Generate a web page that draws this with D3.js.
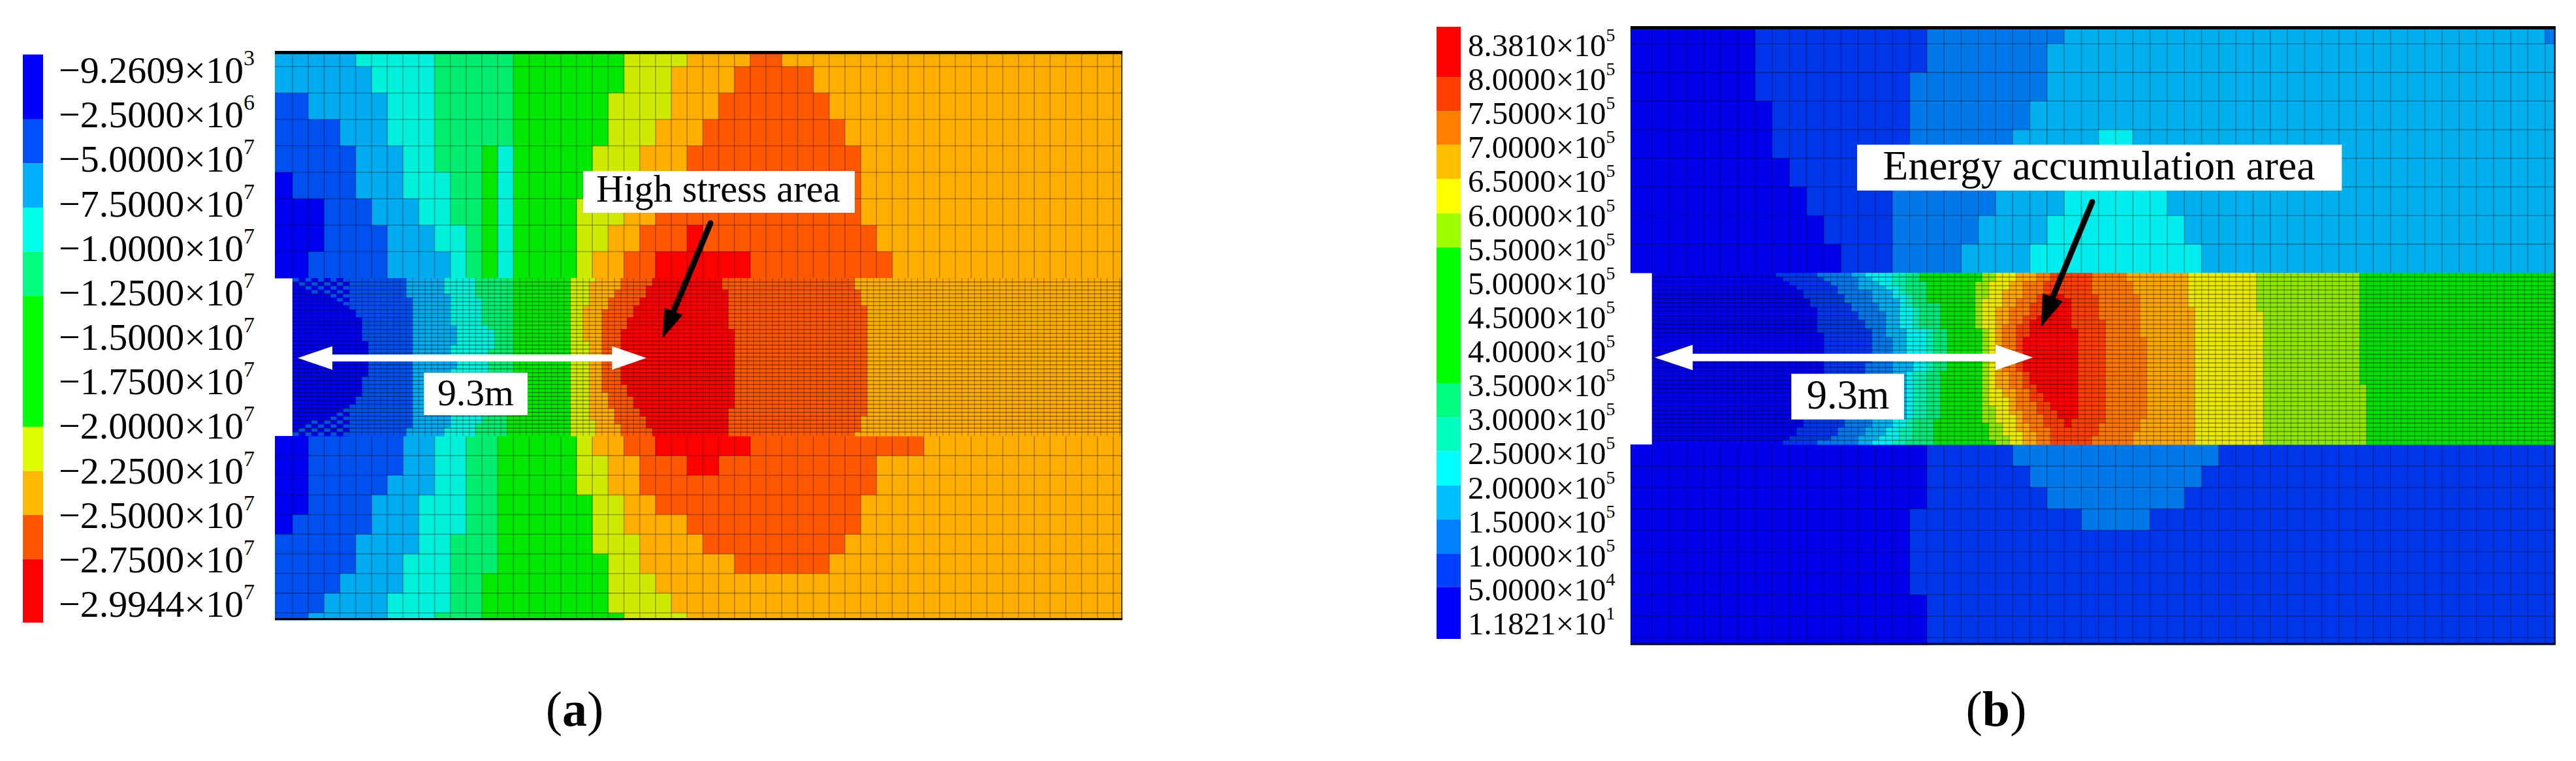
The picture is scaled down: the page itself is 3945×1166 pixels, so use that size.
<!DOCTYPE html>
<html><head><meta charset="utf-8">
<script src="https://cdnjs.cloudflare.com/ajax/libs/d3/7.8.5/d3.min.js"></script>
<style>html,body{margin:0;padding:0;background:#fff}svg{display:block}text{font-family:"Liberation Serif",serif;fill:#000}</style>
</head><body><div id="c"></div>
<script>
// ---------- legend data ----------
const labelsA=[["−9.2609","3"],["−2.5000","6"],["−5.0000","7"],["−7.5000","7"],["−1.0000","7"],["−1.2500","7"],["−1.5000","7"],["−1.7500","7"],["−2.0000","7"],["−2.2500","7"],["−2.5000","7"],["−2.7500","7"],["−2.9944","7"]];
const labelsB=[["8.3810","5"],["8.0000","5"],["7.5000","5"],["7.0000","5"],["6.5000","5"],["6.0000","5"],["5.5000","5"],["5.0000","5"],["4.5000","5"],["4.0000","5"],["3.5000","5"],["3.0000","5"],["2.5000","5"],["2.0000","5"],["1.5000","5"],["1.0000","5"],["5.0000","4"],["1.1821","1"]];
const barStopsA=[0,1.47,2.47,3.47,4.47,5.47,8.44,9.44,10.44,11.44,12.88];
const barStopsB=[0,1.48,2.48,3.47,4.47,5.49,6.49,10.48,11.48,12.48,13.49,14.49,15.49,16.47,18];
const barColorsA=["#0000ff","#0050ff","#00b0ff","#00ffe8","#00ff80","#00ff00","#dfff00","#ffb900","#ff5500","#ff0000"];
const barColorsB=["#ff0000","#ff4000","#ff8000","#ffbf00","#ffff00","#9fff00","#00ff00","#00ff80","#00ffbf","#00ffff","#00bfff","#0080ff","#0040ff","#0000ff"];
const cellColorsA=["#0000f0","#0050f0","#00abf0","#00f0dc","#00ee70","#00e800","#cdea00","#ffae00","#ff5800","#ff0000"];
const cellColorsB=["#0000ea","#0036ea","#0078ea","#00b0ee","#00eeee","#00eeb0","#00e878","#00e000","#90e800","#ece800","#ffa800","#ff7800","#ff4000","#ff0000"];

// ---------- panel (a): coarse rows, each [band,firstColumn] ----------
const upperA=[
 [[2,0],[3,5],[4,10],[5,15],[6,22],[7,26],[8,30],[7,32]],
 [[2,0],[3,6],[4,10],[5,15],[6,22],[7,25],[8,29],[7,34]],
 [[1,0],[2,2],[3,7],[4,10],[5,15],[6,21],[7,25],[8,28],[7,35]],
 [[1,0],[2,4],[3,7],[4,10],[5,15],[6,21],[7,24],[8,27],[7,36]],
 [[1,0],[2,5],[3,8],[4,10],[5,13],[3,14],[5,15],[6,20],[7,23],[8,26],[7,37]],
 [[0,0],[1,1],[2,5],[3,8],[4,11],[5,13],[3,14],[5,15],[6,20],[7,23],[8,25],[7,37]],
 [[0,0],[1,3],[2,6],[3,9],[4,11],[5,13],[3,14],[5,15],[6,19],[7,22],[8,24],[7,37]],
 [[0,0],[1,3],[2,7],[3,10],[4,12],[5,13],[3,14],[5,15],[6,19],[7,21],[8,23],[9,26],[8,27],[7,38]],
 [[0,0],[1,2],[2,7],[3,11],[4,12],[5,13],[3,14],[5,15],[6,19],[7,20],[8,22],[9,24],[8,30],[7,39]]
];
const lowerA=[
 [[0,0],[1,2],[2,8],[3,10],[4,12],[5,14],[6,19],[7,20],[8,22],[9,24],[8,30],[7,41]],
 [[0,0],[1,2],[2,8],[3,10],[4,12],[5,14],[6,19],[7,21],[8,23],[9,26],[8,28],[7,38]],
 [[0,0],[1,2],[2,7],[3,10],[4,12],[5,14],[6,19],[7,21],[8,23],[7,38]],
 [[0,0],[1,2],[2,6],[3,9],[4,12],[5,14],[6,20],[7,22],[8,24],[7,37]],
 [[0,0],[1,1],[2,6],[3,9],[4,12],[5,14],[6,20],[7,22],[8,26],[7,37]],
 [[1,0],[2,5],[3,9],[4,11],[5,14],[6,20],[7,23],[8,27],[7,36]],
 [[1,0],[2,5],[3,8],[4,11],[5,14],[6,21],[7,23],[8,29],[7,35]],
 [[1,0],[2,4],[3,8],[4,11],[5,13],[6,21],[7,24]],
 [[1,0],[2,3],[3,7],[4,11],[5,13],[6,21],[7,25]],
 [[1,0],[2,2],[3,7],[4,10],[5,13],[6,22],[7,26]]
];
// panel (a): fine layer, band sequence and for each edge its [firstRow,fineColumn] runs
const midBandsA=[0,1,2,3,4,5,6,7,8,9,8,7];
const midEdgesA=[
 [[0,9],[8,10],[10,11],[16,12],[25,11],[30,10],[32,9]],
 [[0,18],[5,19],[38,18]],
 [[0,24],[4,25],[12,26],[17,25],[20,26],[23,25],[38,24]],
 [[0,29],[5,30],[12,31],[13,32],[18,31],[35,30],[37,29]],
 [[0,35],[35,34]],
 [[0,44]],
 [[0,48],[1,47],[7,46],[16,47],[36,48]],
 [[0,52],[3,51],[5,50],[8,49],[29,50],[33,51],[37,52]],
 [[0,57],[2,56],[5,55],[7,54],[10,53],[13,52],[27,53],[30,54],[33,55],[35,56],[38,57]],
 [[0,68],[3,69],[13,70],[33,69]],
 [[0,89],[3,90],[7,91],[35,90],[39,89]]
];
const checkerA=[[0,[0,2,4,6,8]],[1,[1,3,5,7]],[2,[2,4,6,8]],[3,[3,5,7]],[4,[6,8]],[5,[7]],[6,[8]],
 [39,[0,2,4,6,8]],[38,[1,3,5,7]],[37,[2,4,6,8]],[36,[3,5,7]],[35,[6,8]],[34,[7]],[33,[8]]];

// ---------- panel (b) ----------
const upperB=[
 [[0,0],[1,7],[2,17],[3,25],[2,53]],
 [[0,0],[1,7],[2,17],[3,24]],
 [[0,0],[1,7],[2,16],[3,24]],
 [[0,0],[1,8],[2,16],[3,23]],
 [[0,0],[1,8],[2,16],[3,22],[4,27],[3,29]],
 [[0,0],[1,9],[2,15],[3,21],[4,25],[3,31]],
 [[0,0],[1,10],[2,15],[3,21],[4,25],[3,31]],
 [[0,0],[1,11],[2,15],[3,20],[4,24],[3,32]],
 [[0,0],[1,12],[2,15],[3,19],[4,23],[3,33]]
];
const lowerB=[
 [[0,0],[1,17],[2,22],[1,34]],
 [[0,0],[1,17],[2,23],[1,33]],
 [[0,0],[1,17],[2,24],[1,32]],
 [[0,0],[1,16],[2,26],[1,30]],
 [[0,0],[1,16]],
 [[0,0],[1,16]],
 [[0,0],[1,16]],
 [[0,0],[1,17]],
 [[0,0],[1,17]],
 [[0,0],[1,17]]
];
const midBandsB=[0,1,2,3,4,5,6,7,8,9,10,11,12,13,12,11,10,9,8,7];
const midEdgesB=[
 [[0,18],[1,19],[2,20],[3,21],[4,22],[6,23],[8,24],[14,25],[26,24],[31,23],[34,22],[36,21],[38,20],[39,19]],
 [[0,24],[1,25],[2,26],[3,27],[5,28],[7,29],[9,30],[11,31],[13,32],[21,31],[25,29],[34,28],[36,27],[38,26],[39,24]],
 [[0,29],[1,30],[4,32],[7,33],[9,34],[15,35],[26,33],[34,32],[36,31],[38,30]],
 [[0,31],[1,32],[2,33],[3,34],[4,35],[6,36],[13,37],[20,38],[23,37],[34,35],[36,34],[38,33],[39,32]],
 [[0,35],[3,36],[5,37],[8,38],[13,40],[23,38],[34,37],[36,36],[39,35]],
 [[0,37],[5,38],[8,39],[13,41],[23,40],[34,38],[39,37]],
 [[0,39],[2,40],[7,42],[13,43],[23,42],[34,41]],
 [[0,48],[2,47],[13,48],[35,49],[39,50]],
 [[0,50],[2,49],[6,48],[13,49],[31,50],[35,51],[38,52]],
 [[0,53],[2,52],[4,51],[8,50],[27,51],[29,52],[33,53],[37,54]],
 [[0,56],[2,54],[6,53],[8,52],[12,51],[23,52],[27,53],[32,54],[35,55],[37,56]],
 [[0,58],[2,57],[5,56],[7,55],[10,54],[12,53],[23,54],[27,55],[30,56],[33,57],[36,58]],
 [[0,60],[5,57],[10,56],[11,55],[15,54],[23,55],[26,56],[28,57],[30,58],[32,59],[34,60],[36,61]],
 [[0,60],[6,61],[13,62],[34,61]],
 [[0,64],[5,65],[11,66],[35,65],[38,64]],
 [[0,69],[2,70],[5,71],[15,72],[34,71],[37,70]],
 [[0,78],[8,79]],
 [[0,88],[9,89]],
 [[0,103],[26,104]]
];
const fineRows=40, fineCols=132;

const captions=["a","b"];
const notes={a:"High stress area",b:"Energy accumulation area",dist:"9.3m"};

// ---------- drawing ----------
const svg=d3.select("#c").append("svg").attr("width",3945).attr("height",1166).attr("viewBox","0 0 3945 1166");

function legend(cfg){
  const g=svg.append("g");
  const y=d3.scaleLinear().domain(cfg.barDomain).range(cfg.barRange);
  g.selectAll("rect").data(cfg.colors).join("rect")
   .attr("x",cfg.barX).attr("width",cfg.barW)
   .attr("y",(d,i)=>y(cfg.stops[i])).attr("height",(d,i)=>y(cfg.stops[i+1])-y(cfg.stops[i]))
   .attr("fill",d=>d);
  const ly=d3.scalePoint().domain(d3.range(cfg.labels.length)).range(cfg.labelRange);
  const t=g.selectAll("text").data(cfg.labels).join("text")
   .attr("x",cfg.labelX).attr("y",(d,i)=>ly(i)).attr("font-size",cfg.fs);
  t.append("tspan").text(d=>d[0]+"×10");
  t.append("tspan").attr("font-size",cfg.supFs).attr("dy",-cfg.supUp).text(d=>d[1]);
}
legend({barX:35,barW:31,barDomain:[0,12.88],barRange:[83.5,954],stops:barStopsA,colors:barColorsA,labels:labelsA,labelRange:[127,945],labelX:90,fs:58,supFs:34,supUp:27});
legend({barX:2200,barW:37,barDomain:[0,18],barRange:[41,979],stops:barStopsB,colors:barColorsB,labels:labelsB,labelRange:[86,972],labelX:2248,fs:49,supFs:28,supUp:23});

function edgeAt(list,r){let v=list[0][1];for(const [s,f] of list){if(r>=s)v=f;}return v;}

function panel(cfg){
  const g=svg.append("g").style("filter","blur(0.7px)");
  const X=d3.scaleLinear().domain(cfg.colDomain).range(cfg.colRange);
  const Yu=d3.scaleLinear().domain(cfg.upDomain).range(cfg.upRange);
  const Yl=d3.scaleLinear().domain(cfg.lowDomain).range(cfg.lowRange);
  const Fx=d3.scaleLinear().domain([0,cfg.fineEnd]).range(cfg.fineX);
  const Fy=d3.scaleLinear().domain([0,fineRows]).range(cfg.fineY);
  const cols=cfg.colDomain[3];
  // coarse layers
  [[cfg.upper,Yu],[cfg.lower,Yl]].forEach(([rows,Y])=>{
    rows.forEach((runs,r)=>{
      g.append("g").selectAll("rect").data(runs).join("rect")
       .attr("x",d=>X(d[1]))
       .attr("width",(d,i)=>X(i+1<runs.length?runs[i+1][1]:cols)-X(d[1])+.5)
       .attr("y",Y(r)).attr("height",Y(r+1)-Y(r)+.5)
       .attr("fill",d=>cfg.palette[d[0]]);
    });
    const gl=g.append("g").attr("stroke","#000").attr("stroke-opacity",.3).attr("stroke-width",1.6);
    gl.selectAll("line.h").data(d3.range(1,rows.length)).join("line").attr("class","h")
      .attr("x1",X(0)).attr("x2",X(cols)).attr("y1",d=>Y(d)).attr("y2",d=>Y(d));
    gl.selectAll("line.v").data(d3.range(1,cols)).join("line").attr("class","v")
      .attr("x1",d=>X(d)).attr("x2",d=>X(d)).attr("y1",Y(0)).attr("y2",Y(rows.length));
  });
  // fine layer
  const cells=[];
  d3.range(fineRows).forEach(r=>{
    const stops=cfg.midEdges.map(e=>edgeAt(e,r));
    let start=0;
    cfg.midBands.forEach((b,i)=>{
      const end=i<stops.length?stops[i]:cfg.fineCount;
      if(end>start) cells.push({r,b,start,end});
      if(end>start) start=end;
    });
  });
  g.append("g").selectAll("rect").data(cells).join("rect")
   .attr("x",d=>Fx(d.start)).attr("width",d=>Math.min(Fx(d.end),cfg.fineX[1])-Fx(d.start)+.5)
   .attr("y",d=>Fy(d.r)).attr("height",d=>Fy(d.r+1)-Fy(d.r)+.5)
   .attr("fill",d=>cfg.palette[d.b]);
  if(cfg.checker){
    const ch=cfg.checker.flatMap(([r,fs])=>fs.map(f=>({r,f})));
    g.append("g").selectAll("rect").data(ch).join("rect")
     .attr("x",d=>Fx(d.f)).attr("width",Fx(1)-Fx(0)).attr("y",d=>Fy(d.r)).attr("height",Fy(1)-Fy(0))
     .attr("fill",cfg.palette[1]);
  }
  const fl=g.append("g").attr("stroke","#000");
  fl.selectAll("line.h").data(d3.range(1,fineRows)).join("line").attr("class","h")
    .attr("stroke-opacity",.4).attr("stroke-width",1.5)
    .attr("x1",cfg.fineX[0]).attr("x2",cfg.fineX[1]).attr("y1",d=>Fy(d)).attr("y2",d=>Fy(d));
  fl.selectAll("line.v").data(d3.range(0,cfg.fineCount)).join("line").attr("class","v")
    .attr("stroke-opacity",.3).attr("stroke-width",1.3)
    .attr("x1",d=>Fx(d)).attr("x2",d=>Fx(d)).attr("y1",cfg.fineY[0]).attr("y2",cfg.fineY[1]);
  // frame
  const f=svg.append("g").attr("stroke","#000");
  f.append("line").attr("x1",X(0)).attr("x2",X(cols)+1).attr("y1",cfg.upRange[0]+cfg.topW/2-1).attr("y2",cfg.upRange[0]+cfg.topW/2-1).attr("stroke-width",cfg.topW);
  f.append("line").attr("x1",X(0)).attr("x2",X(cols)+1).attr("y1",cfg.lowRange[2]-1.5).attr("y2",cfg.lowRange[2]-1.5).attr("stroke-width",3);
  f.append("line").attr("x1",X(cols)).attr("x2",X(cols)).attr("y1",cfg.upRange[0]).attr("y2",cfg.lowRange[2]).attr("stroke-width",cfg.rightW).attr("stroke-opacity",.7);
  // annotations
  const n=svg.append("g");
  n.append("rect").attr("x",cfg.noteBox[0]).attr("y",cfg.noteBox[1]).attr("width",cfg.noteBox[2]).attr("height",cfg.noteBox[3]).attr("fill","#fff");
  n.append("text").attr("x",cfg.noteText[0]).attr("y",cfg.noteText[1]).attr("font-size",cfg.noteFs).text(cfg.note);
  const [ax0,ay0,tx,ty,c1x,c1y,c2x,c2y]=cfg.blackArrow;
  n.append("line").attr("x1",ax0).attr("y1",ay0).attr("x2",(c1x+c2x)/2).attr("y2",(c1y+c2y)/2).attr("stroke","#000").attr("stroke-width",9).attr("stroke-linecap","round");
  n.append("path").attr("fill","#000").attr("d",d3.line()([[tx,ty],[c1x,c1y],[c2x,c2y]])+"Z");
  const [l,lb,rb,r,mid,hh,sh]=cfg.whiteArrow;
  n.append("path").attr("fill","#fff").attr("d",d3.line()([[l,mid],[lb,mid-hh],[lb,mid-sh],[rb,mid-sh],[rb,mid-hh],[r,mid],[rb,mid+hh],[rb,mid+sh],[lb,mid+sh],[lb,mid+hh]])+"Z");
  n.append("rect").attr("x",cfg.distBox[0]).attr("y",cfg.distBox[1]).attr("width",cfg.distBox[2]).attr("height",cfg.distBox[3]).attr("fill","#fff");
  n.append("text").attr("x",cfg.distText[0]).attr("y",cfg.distText[1]).attr("font-size",cfg.distFs).text(notes.dist);
  const cap=svg.append("text").attr("x",cfg.cap[0]).attr("y",cfg.cap[1]).attr("font-size",76).attr("text-anchor","middle");
  cap.append("tspan").text("(");
  cap.append("tspan").attr("font-weight","bold").text(cfg.capText);
  cap.append("tspan").text(")");
}

panel({colDomain:[0,1,53,54],colRange:[421,448,1704.8,1718],upDomain:[0,1,9],upRange:[79,102,426],lowDomain:[0,9,10],lowRange:[668,939,950],
 upper:upperA,lower:lowerA,palette:cellColorsA,midBands:midBandsA,midEdges:midEdgesA,checker:checkerA,
 fineX:[448,1718],fineEnd:131.33,fineCount:132,fineY:[426,668],topW:5,rightW:2,
 note:notes.a,noteBox:[893,262,416,64],noteText:[913,309],noteFs:58.5,
 blackArrow:[1088,342,1014.5,518.5,1017.7,471.7,1045.5,482.5],
 whiteArrow:[456,509,937.3,990,548.5,18,5.2],
 distBox:[649.3,571,158.7,65],distText:[670,621],distFs:57.7,cap:[880,1112],capText:captions[0]});
panel({colDomain:[0,1,53,54],colRange:[2497,2530,3897.6,3912.6],upDomain:[0,1,9],upRange:[41,67,418],lowDomain:[0,9,10],lowRange:[681,977,988],
 upper:upperB,lower:lowerB,palette:cellColorsB,midBands:midBandsB,midEdges:midEdgesB,
 fineX:[2530,3912.6],fineEnd:131.4,fineCount:132,fineY:[418,681],topW:5,rightW:3,
 note:notes.b,noteBox:[2844,221.7,742.4,70.3],noteText:[2883.6,275],noteFs:63.5,
 blackArrow:[3204,309.5,3125.7,501.3,3128.3,449.3,3159,462],
 whiteArrow:[2534.3,2592.3,3056,3113.3,547.8,19.5,5.8],
 distBox:[2743.3,572.7,172.7,70],distText:[2766.7,626],distFs:62.5,cap:[3057,1112],capText:captions[1]});
</script></body></html>
